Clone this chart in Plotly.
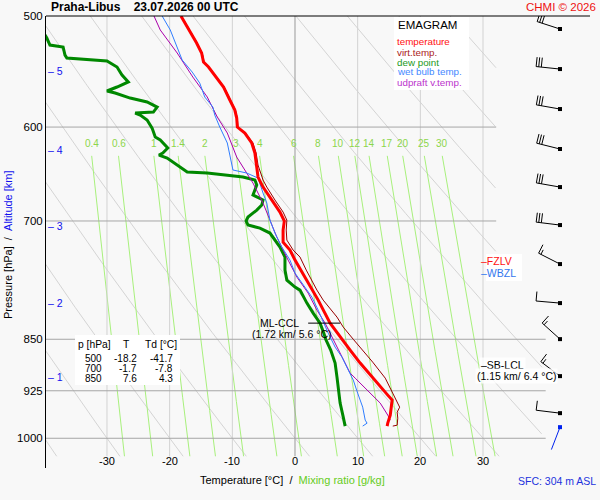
import numpy as np
import plotly.graph_objects as go

station = "Praha-Libus"
run_time = "23.07.2026 00 UTC"

# temperature profile (hPa, degC)
t_p = [500, 513.3, 522.7, 531.3, 539.2, 543.7, 553.6, 561.8, 573.9, 583.5, 591.2, 600, 605.9, 615.9,
       626.1, 638.6, 651.3, 662.1, 676.3, 689.8, 700, 710.5, 724.7, 734.2, 746.4, 767.5, 784.1, 797.1,
       827.8, 850, 865.2, 883.9, 901.5, 919.5, 931.6, 939.1, 950.2, 962.7, 975.5, 980.2]
t_T = [-18.2, -16.7, -15.7, -14.9, -14.6, -13.8, -12.5, -11.4, -10.4, -9.6, -9.3, -9.2, -8.0, -6.9,
       -6.4, -6.2, -5.9, -5.1, -3.7, -2.4, -1.7, -1.9, -1.9, -0.8, 0.0, 1.6, 2.7, 3.7,
       5.6, 7.6, 8.8, 10.4, 12.0, 13.6, 14.8, 15.5, 15.3, 15.2, 14.8, 14.7]

# virtual temperature
tv_p = [500, 513.3, 522.7, 531.3, 539.2, 543.7, 553.6, 561.8, 573.9, 583.5, 591.2, 600, 605.9, 615.9,
        626.1, 638.6, 654.5, 662.1, 676.3, 689.8, 699.0, 710.5, 722.3, 734.2, 742.7, 758.8, 784.1, 797.1,
        819.6, 833.2, 850, 865.2, 882.5, 906.0, 928.6, 950.2, 958.0, 967.5, 978.7, 980.2]
tv_T = [-18.1, -16.6, -15.6, -14.8, -14.5, -13.7, -12.4, -11.3, -10.3, -9.5, -9.2, -9.1, -7.9, -6.7,
        -6.2, -5.9, -5.1, -4.5, -3.2, -1.9, -1.3, -1.4, -1.3, -0.3, 0.8, 1.8, 3.5, 4.5,
        6.7, 7.7, 9.3, 10.8, 12.4, 14.4, 15.6, 16.7, 16.3, 16.4, 16.3, 15.6]

# dew point
td_p = [500, 518.4, 524.4, 526.1, 533.1, 535.7, 538.3, 543.7, 550.9, 557.2, 561.8, 565.5, 567.4, 572.1,
        575.8, 580.6, 585.4, 586.3, 588.3, 593.1, 601.0, 609.9, 612.9, 621.0, 626.1, 628.2, 631.3, 640.7,
        646.0, 647.0, 650.2, 651.3, 654.5, 659.9, 670.8, 676.3, 681.9, 687.6, 695.5, 700, 704.7, 708.2,
        714.0, 730.6, 742.7, 758.8, 771.3, 780.2, 784.1, 801.0, 814.3, 827.8, 841.5, 850, 865.2, 883.9,
        904.5, 924.0, 943.9, 965.9, 978.7, 980.2]
td_T = [-41.7, -39.6, -39.1, -37.0, -36.7, -36.4, -30.0, -28.4, -27.6, -26.6, -28.4, -30.0, -28.7, -26.3,
        -23.6, -22.0, -22.6, -25.5, -24.7, -23.6, -22.8, -22.3, -21.5, -20.3, -21.1, -21.7, -20.4, -18.3,
        -17.2, -14.0, -9.9, -8.3, -6.4, -6.1, -6.7, -5.1, -5.3, -6.1, -7.5, -7.8, -7.5, -5.6,
        -4.0, -2.4, -1.6, -1.6, -1.3, 0.0, 0.8, 1.9, 2.9, 4.0, 4.6, 4.9, 5.7, 6.4,
        6.7, 6.9, 7.2, 7.7, 8.0, 8.0]

# wet bulb temperature
wb_p = [500, 511.6, 537.5, 548.2, 558.2, 571.1, 580.6, 588.3, 600, 615.9, 628.2, 643.8, 647.0, 652.4,
        668.6, 679.7, 699.0, 714.0, 730.6, 746.4, 762.5, 777.7, 793.2, 810.3, 826.4, 841.5, 861.0, 875.3,
        894.1, 908.9, 928.6, 950.2, 970.6, 975.5, 980.2]
wb_T = [-21.2, -19.9, -18.0, -16.4, -15.2, -14.4, -13.1, -12.8, -12.0, -10.8, -10.4, -9.9, -7.7, -5.9,
        -5.1, -4.5, -4.0, -3.2, -2.1, -0.8, 0.0, 1.3, 2.7, 3.7, 4.5, 5.3, 6.4, 7.5,
        8.5, 9.3, 10.0, 10.8, 11.2, 11.5, 10.8]

# updraft virtual temperature
up_p = [500, 511.6, 531.3, 552.7, 571.1, 590.2, 605.9, 630.3, 657.8, 679.7, 699.0, 718.7, 746.4,
        767.5, 788.0, 810.3, 827.8, 850, 875.3, 898.6, 906.0, 924.0, 943.9, 962.7, 970.6]
up_T = [-22.5, -21.5, -18.8, -16.3, -14.0, -12.4, -10.8, -9.3, -6.7, -5.1, -4.0, -2.9, -1.1,
        0.3, 2.1, 3.5, 4.8, 6.1, 7.5, 8.8, 9.6, 11.5, 13.6, 14.8, 15.2]

table_p = [500, 700, 850]
table_T = [-18.2, -1.7, 7.6]
table_Td = [-41.7, -7.8, 4.3]

alt_km = [1, 2, 3, 4, 5]
alt_p = [904.5, 801.0, 705.9, 623.0, 547.3]

# wind barbs (deg, kt)
wind_p = [510.8, 545.5, 582.5, 622.0, 662.1, 704.7, 751.3, 801.0, 849.8, 903.0, 959.6]
wind_dir = [288, 276, 280, 284, 280, 277, 297, 275, 312, 307, 277]
wind_spd = [30, 30, 30, 30, 30, 30, 15, 10, 15, 15, 10]
sfc_p, sfc_dir, sfc_spd, sfc_alt = 981.9, 201, 2, 304

fzlv_p, wbzl_p = 747.6, 762.5
ml_ccl_p, ml_ccl_km, ml_ccl_t = 827.8, 1.72, 5.6
sb_lcl_p, sb_lcl_km, sb_lcl_t = 886.8, 1.15, 6.4

isobars = [600, 700, 850, 925, 1000]
isotherms = [-30, -20, -10, 0, 10, 20, 30]
thetas = list(range(-40, 110, 10))
mix_ratios = [0.4, 0.6, 1, 1.4, 2, 3, 4, 6, 8, 10, 12, 14, 17, 20, 25, 30]

# ---- geometry of the frame
W, H = 600, 500
X0, X1, Y0, Y1 = 46, 590, 16, 468
t_min, t_max = -39.73, 47.07
p_top, p_bot = 500, 1050
c_per_px = (t_max - t_min) / (X1 - X0)
ln_per_px = np.log(p_bot / p_top) / (Y1 - Y0)


def px(x):
    return (x - X0) / (X1 - X0)


def py(y):
    return (Y1 - y) / (Y1 - Y0)


FONT = "Liberation Sans"
BG = "#f8f8f8"

fig = go.Figure()


def line(x, y, color, width=1):
    fig.add_trace(go.Scatter(x=x, y=y, mode="lines", line=dict(color=color, width=width),
                             hoverinfo="skip", showlegend=False))


# dry adiabats
pp = np.linspace(500, 1030, 300)
for th in thetas:
    tt = (th + 273.15) * (pp / 1000) ** 0.2857 - 273.15
    lim = 32.1 if th >= 60 else 39.5
    tt = np.where(tt <= lim, tt, np.nan)
    line(tt, pp, "#d4d4d4")

# mixing ratio lines
pm = np.linspace(629, 1030, 60)


def t_from_w(w, p):
    e = w * p / (622 + w)
    a = np.log(e / 6.112)
    return 243.5 * a / (17.67 - a)


for w in mix_ratios:
    line(t_from_w(w, pm), pm, "#a8f07c")

# isotherms
for t in isotherms:
    line([t, t], [500, 1030], "#999999" if t == 0 else "#d2d2d2")

# isobars
for p in isobars:
    line([t_min, 32.1 if p < 800 else 40.0], [p, p], "#a6a6a6")

# profiles
line(td_T, td_p, "#008800", 3)
line(up_T, up_p, "#aa00aa", 1)
line(wb_T, wb_p, "#2f7dff", 1)
line(tv_T, tv_p, "#990000", 1)
line(t_T, t_p, "#ff0000", 3)

# ML-CCL marker
line([2.1, 7.2], [ml_ccl_p, ml_ccl_p], "black", 1)

# wind barbs
t_st = t_min + (560 - X0) * c_per_px


def barb(p0, d, s, color):
    r = np.radians(d)
    ux, uy = np.sin(r), -np.cos(r)
    nx, ny = -uy, ux
    L = 24.0
    xs, ys = [0, L * ux], [0, L * uy]
    full, half = int(s // 10), (s % 10) >= 5
    k = 0
    for i in range(full + (1 if half else 0)):
        ln = 9.5 if i < full else 5.0
        bx, by = (L - k) * ux, (L - k) * uy
        xs += [None, bx, bx + ln * nx]
        ys += [None, by, by + ln * ny]
        k += 2.6
    tx = [None if v is None else t_st + v * c_per_px for v in xs]
    ty = [None if v is None else p0 * np.exp(v * ln_per_px) for v in ys]
    fig.add_trace(go.Scatter(x=tx, y=ty, mode="lines", line=dict(color=color, width=1),
                             hoverinfo="skip", showlegend=False, connectgaps=False))
    fig.add_trace(go.Scatter(x=[t_st], y=[p0], mode="markers",
                             marker=dict(symbol="square", size=4, color=color),
                             hoverinfo="skip", showlegend=False))


for p0, d, s in zip(wind_p, wind_dir, wind_spd):
    barb(p0, d, s, "black")
barb(sfc_p, sfc_dir, sfc_spd, "#0022ee")

shapes = []


def box(x0, y0, x1, y1):
    shapes.append(dict(type="rect", xref="paper", yref="paper", x0=px(x0), x1=px(x1),
                       y0=py(y1), y1=py(y0), fillcolor="white", line=dict(width=0), layer="above"))


box(394, 17, 469, 90)
box(75, 335, 180, 385)
box(486, 254, 522, 281)
shapes.append(dict(type="line", xref="paper", yref="paper", x0=0, x1=1, y0=1, y1=1,
                   line=dict(color="black", width=1)))

ann = []


def text(s, x, y, size=10, color="black", xa="left", xref="paper", yref="paper", **kw):
    ann.append(dict(text=s, x=x, y=y, xref=xref, yref=yref, xanchor=xa, yanchor="middle",
                    showarrow=False, font=dict(family=FONT, size=size, color=color), **kw))


nb = "\u00a0"
text(f"<b>{station}{nb * 3} {run_time}</b>", px(49), py(7), 12)
text("CHMI © 2026", px(598), py(7), 11.5, "#ee1111", "right")

# legend
text("EMAGRAM", px(396), py(25), 11.5)
leg = [("temperature", "#ff1111"), ("virt.temp.", "#aa2222"), ("dew point", "#229922"),
       ("wet bulb temp.", "#4488ff"), ("udpraft v.temp.", "#bb33cc")]
for i, (s, c) in enumerate(leg):
    text(s, px(396), py(42 + 10 * i), 9.8, c, borderpad=0)

# x tick labels
for t in isotherms:
    text(str(t), t, py(461), 11, xa="center", xref="x")

text(f"Temperature [°C]{nb}{nb}/{nb}{nb}<span style='color:#66cc22'>Mixing ratio [g/kg]</span>",
     px(292), py(480), 11, xa="center")
text(f"Pressure [hPa]{nb}{nb}/{nb}{nb}<span style='color:#1111ee'>Altitude [km]</span>",
     px(8), py(245), 11, xa="center", textangle=-90)
text(f"SFC: {sfc_alt} m ASL", px(598), py(481), 10.5, "#2233dd", "right")

# altitude marks
for km, p in zip(alt_km, alt_p):
    text(f"\u2013 {km}", px(46), np.log10(p), 10.5, "#1111ee", yref="y")

# mixing ratio labels
for w in mix_ratios:
    text(f"{w:g}", float(t_from_w(w, 629)), py(143), 10, "#8cd64b", "center", xref="x")

# table
text("p [hPa]", px(77), py(344), 10.3, borderpad=0)
text("T", px(131), py(344), 10.3, xa="right", borderpad=0)
text("Td [°C]", px(178), py(344), 10.3, xa="right", borderpad=0)
for i, (p, t, td) in enumerate(zip(table_p, table_T, table_Td)):
    yy = py(358 + 10.3 * i)
    text(f"{p}", px(103), yy, 10, xa="right", borderpad=0)
    text(f"{t:.1f}", px(138), yy, 10, xa="right", borderpad=0)
    text(f"{td:.1f}", px(174), yy, 10, xa="right", borderpad=0)

# levels
text("ML-CCL", px(301), np.log10(ml_ccl_p), 10.5, xa="right", yref="y")
text(f"({ml_ccl_km} km/ {ml_ccl_t} °C)", px(291), py(334), 10.5, xa="center")
text(f"\u2013SB-LCL", px(479), np.log10(sb_lcl_p), 10.5, yref="y", bgcolor="rgba(255,255,255,0.8)")
text(f"({sb_lcl_km} km/ {sb_lcl_t} °C)", px(516), py(376), 10.5, xa="center",
     bgcolor="rgba(255,255,255,0.8)")
text("\u2013<span style='color:#ff1111'>FZLV</span>", px(479), np.log10(fzlv_p), 10.5, "#ff1111", yref="y")
text("\u2013WBZL", px(479), np.log10(wbzl_p), 10.5, "#3377ee", yref="y")

fig.update_layout(
    width=W, height=H,
    margin=dict(l=X0, r=W - X1, t=Y0, b=H - Y1),
    paper_bgcolor=BG, plot_bgcolor=BG,
    showlegend=False,
    font=dict(family=FONT, size=11, color="black"),
    xaxis=dict(range=[t_min, t_max], showgrid=False, zeroline=False, showticklabels=False,
               showline=False, fixedrange=True),
    yaxis=dict(type="log", range=[np.log10(p_bot), np.log10(p_top)], showgrid=False, zeroline=False,
               showline=True, linecolor="black", linewidth=1, ticks="",
               tickvals=[500, 600, 700, 850, 925, 1000],
               ticktext=["500", "600", "700", "850", "925", "1000"],
               tickfont=dict(family=FONT, size=11.5), fixedrange=True),
    shapes=shapes,
    annotations=ann,
)

# the page body has a default margin; drop it so the figure sits at the window corner
fig.write_html("out.html", config={"displayModeBar": False},
               post_script="document.body.style.margin='0';")
